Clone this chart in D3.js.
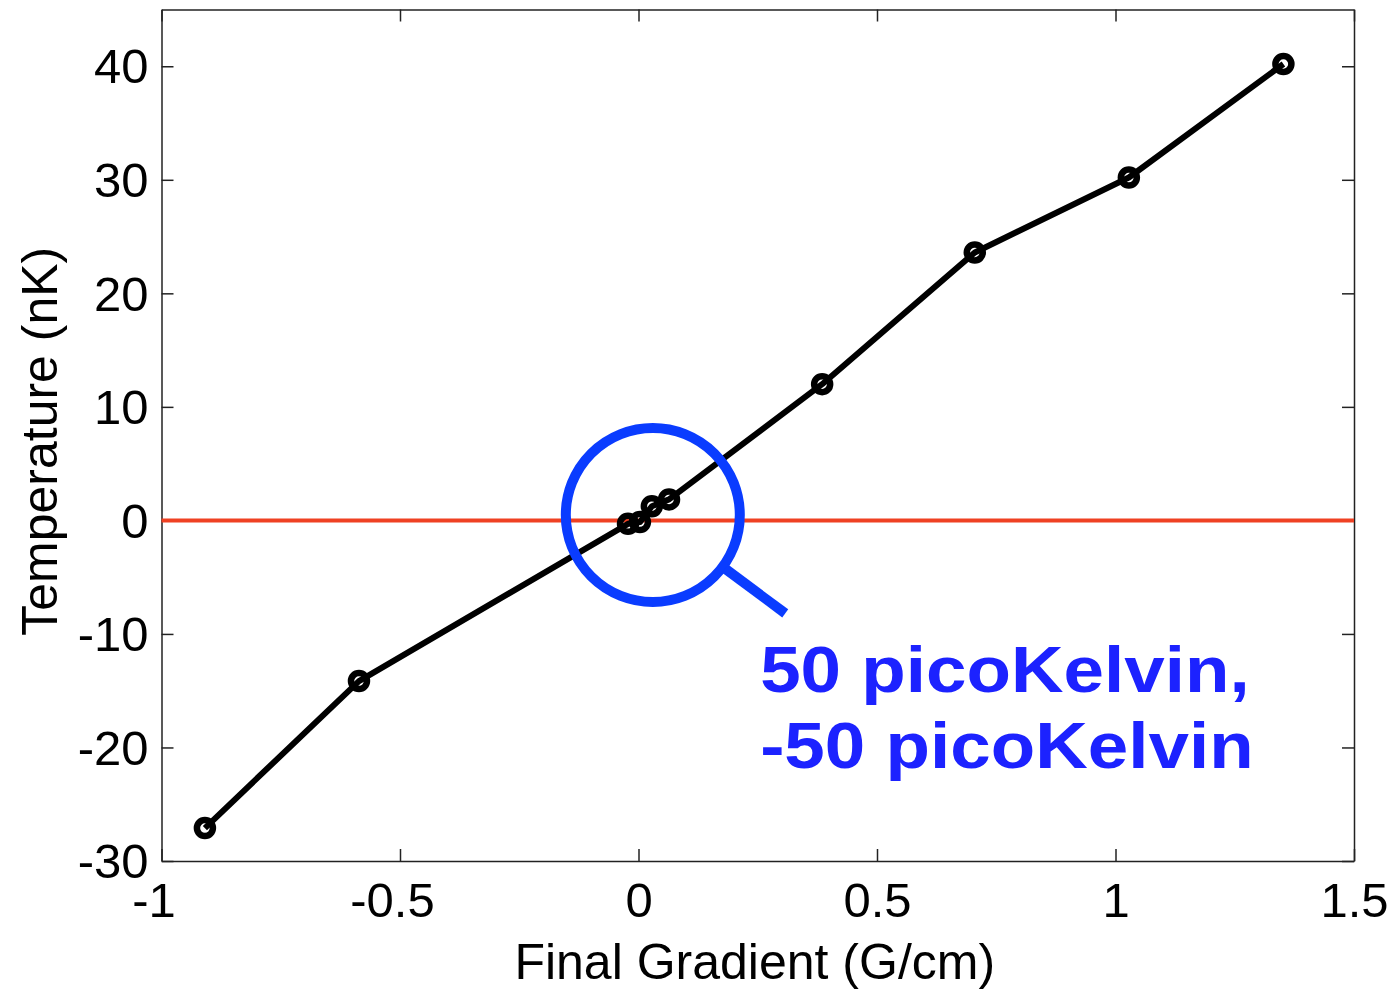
<!DOCTYPE html>
<html lang="en">
<head>
    <meta charset="UTF-8">
    <title>Temperature vs Final Gradient</title>
    <script src="https://d3js.org/d3.v7.min.js"></script>
    <style>
        body { margin: 0; background: #fff; }
        svg { display: block; font-family: "Liberation Sans", Arial, sans-serif; }
        .axis path, .axis line { stroke: #222; stroke-width: 1.5px; }
        .axis text { font-size: 49px; fill: #000; }
        .label { font-size: 50px; fill: #000; }
        .note { font-size: 65px; font-weight: bold; fill: #1c22ff; }
    </style>
</head>
<body>
    <svg width="1392" height="989"></svg>
    <script>
        // values
        const xTicks = [-1, -0.5, 0, 0.5, 1, 1.5];
        const yTicks = [-30, -20, -10, 0, 10, 20, 30, 40];
        const gradient    = [-0.909, -0.586, -0.022, 0.003, 0.028, 0.064, 0.385, 0.705, 1.028, 1.352];
        const temperature = [-27.1, -14.15, -0.3, -0.15, 1.25, 1.85, 12.0, 23.6, 30.2, 40.2];
        const refLevel = [0];
        const noteLines = ["50 picoKelvin,", "-50 picoKelvin"];
        const noteAt = [0.255, -15.1];     // left / baseline of first line
        const lensAt = [0.03, 0.48];       // centre of the blue circle

        const mLeft = 161.5, mRight = 1354, mTop = 9.5, mBottom = 861;

        const svg = d3.select("svg");

        const x = d3.scaleLinear().domain([-1, 1.5]).range([mLeft, mRight]);
        const y = d3.scaleLinear().domain([-30, 45]).range([mBottom, mTop]);
        const fmt = d => String(d);

        // box + inward ticks on all four sides
        const xb = svg.append("g").attr("class", "axis")
            .attr("transform", `translate(0,${mBottom})`)
            .call(d3.axisBottom(x).tickValues(xTicks).tickFormat(fmt)
                .tickSizeInner(-12).tickSizeOuter(0).tickPadding(0));
        xb.selectAll("text")
            .attr("y", 56).attr("dy", null)
            .attr("dx", d => d < 0 ? -8 : 0);

        svg.append("g").attr("class", "axis")
            .attr("transform", `translate(0,${mTop})`)
            .call(d3.axisTop(x).tickValues(xTicks).tickFormat("")
                .tickSizeInner(-12).tickSizeOuter(0));

        const yl = svg.append("g").attr("class", "axis")
            .attr("transform", `translate(${mLeft},0)`)
            .call(d3.axisLeft(y).tickValues(yTicks).tickFormat(fmt)
                .tickSizeInner(-12).tickSizeOuter(0).tickPadding(0));
        yl.selectAll("text")
            .attr("x", -13).attr("dy", "0.34em");

        svg.append("g").attr("class", "axis")
            .attr("transform", `translate(${mRight},0)`)
            .call(d3.axisRight(y).tickValues(yTicks).tickFormat("")
                .tickSizeInner(-12).tickSizeOuter(0));

        svg.selectAll(".axis .domain").attr("fill", "none");

        // red zero line
        svg.selectAll(".ref")
            .data(refLevel)
            .enter().append("line")
            .attr("class", "ref")
            .attr("x1", mLeft).attr("x2", mRight)
            .attr("y1", d => y(d)).attr("y2", d => y(d))
            .attr("stroke", "#ef4123")
            .attr("stroke-width", 4);

        // data line + markers
        const pts = gradient.map((g, i) => [g, temperature[i]]);
        svg.append("path")
            .datum(pts)
            .attr("fill", "none")
            .attr("stroke", "#000")
            .attr("stroke-width", 6)
            .attr("stroke-linejoin", "round")
            .attr("d", d3.line().x(d => x(d[0])).y(d => y(d[1])));

        svg.selectAll(".pt")
            .data(pts)
            .enter().append("circle")
            .attr("class", "pt")
            .attr("cx", d => x(d[0]))
            .attr("cy", d => y(d[1]))
            .attr("r", 8)
            .attr("fill", "none")
            .attr("stroke", "#000")
            .attr("stroke-width", 6.5);

        // magnifier annotation
        const cx = x(lensAt[0]), cy = y(lensAt[1]);
        const r = 87, ang = Math.atan2(55, 74);
        svg.append("circle")
            .attr("cx", cx).attr("cy", cy).attr("r", r)
            .attr("fill", "none")
            .attr("stroke", "#0a3cff")
            .attr("stroke-width", 10);
        svg.append("line")
            .attr("x1", cx + (r + 3) * Math.cos(ang))
            .attr("y1", cy + (r + 3) * Math.sin(ang))
            .attr("x2", cx + 165 * Math.cos(ang))
            .attr("y2", cy + 165 * Math.sin(ang))
            .attr("stroke", "#0a3cff")
            .attr("stroke-width", 10);

        const nx = x(noteAt[0]), ny = y(noteAt[1]);
        svg.selectAll(".note")
            .data(noteLines)
            .enter().append("text")
            .attr("class", "note")
            .attr("transform", (d, i) => `translate(${nx},${ny + i * 76}) scale(1.12,1)`)
            .text(d => d);

        // axis titles
        svg.append("text")
            .attr("class", "label")
            .attr("x", (mLeft + mRight) / 2 - 3)
            .attr("y", 979)
            .attr("text-anchor", "middle")
            .text("Final Gradient (G/cm)");

        svg.append("text")
            .attr("class", "label")
            .attr("transform", `translate(57,${(mTop + mBottom) / 2 + 6}) rotate(-90)`)
            .attr("text-anchor", "middle")
            .text("Temperature (nK)");
    </script>
</body>
</html>
